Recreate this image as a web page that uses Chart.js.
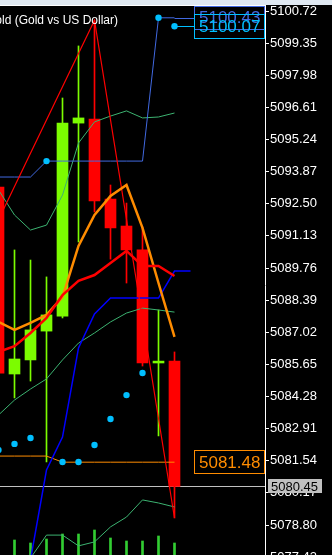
<!DOCTYPE html>
<html lang="en">
<head>
<meta charset="UTF-8">
<title>Gold (Gold vs US Dollar)</title>
<script src="https://cdn.jsdelivr.net/npm/chart.js"></script>
<style>
    html, body {
        margin: 0;
        padding: 0;
        background: #000;
        overflow: hidden;
    }
</style>
</head>
<body>
<canvas id="chart" width="332" height="565"></canvas>
<script>
// bars, oldest on the left
const candleIndex = [0, 1, 2, 3, 4, 5, 6, 7, 8, 9, 10, 11];
const openPrices  = [5093.21, 5085.24, 5085.84, 5087.07, 5087.71, 5095.94, 5096.11, 5092.70, 5091.55, 5090.53, 5085.71, 5085.79];
const highPrices  = [5093.94, 5090.53, 5090.10, 5089.38, 5097.01, 5099.23, 5100.33, 5093.30, 5092.53, 5091.51, 5087.97, 5086.18];
const lowPrices   = [5084.98, 5084.22, 5084.94, 5081.49, 5087.63, 5090.87, 5092.15, 5090.14, 5089.12, 5085.58, 5082.60, 5079.10];
const closePrices = [5085.28, 5085.88, 5087.12, 5087.76, 5095.94, 5096.16, 5092.62, 5091.47, 5090.53, 5085.71, 5085.79, 5080.45];
const tickVolumes = [140, 125, 110, 130, 155, 155, 175, 135, 120, 120, 145, 110];

// indicators
const maOrange  = [5087.46, 5087.12, 5087.42, 5087.76, 5088.52, 5090.70, 5092.02, 5092.83, 5093.30, 5091.47, 5089.12, 5086.82];
const maRed     = [5086.18, 5086.43, 5086.99, 5087.63, 5088.61, 5089.21, 5089.46, 5089.97, 5090.49, 5089.85, 5089.85, 5089.42];
const bandUpper = [5093.09, 5092.02, 5091.38, 5091.59, 5092.87, 5095.09, 5095.99, 5096.24, 5096.46, 5096.16, 5096.20, 5096.37];
const bandMid   = [5083.49, 5084.13, 5084.60, 5085.03, 5085.84, 5086.56, 5086.99, 5087.46, 5087.84, 5088.05, 5087.97, 5087.88];
const bandLower = [null, null, 5077.39, 5078.37, 5078.37, 5077.91, 5078.08, 5078.72, 5079.14, 5079.87, 5079.74, 5079.57];
const blueLine  = [null, null, 5077.31, 5081.15, 5082.55, 5086.35, 5087.80, 5088.48, 5088.48, 5088.48, 5088.48, 5089.63, 5089.63];
const stopLine  = [5093.64, 5093.64, 5093.64, 5094.32, 5094.32, 5094.32, 5094.32, 5094.32, 5094.32, 5094.32, 5100.43, 5100.43];
const sarDots   = [5082.00, 5082.26, 5082.51, 5094.32, 5081.49, 5081.49, 5082.21, 5083.32, 5084.34, 5085.28, 5100.43, 5100.07];
const levelLine = [5081.74, 5081.74, 5081.74, 5081.74, 5081.48, 5081.48, 5081.48, 5081.48, 5081.48, 5081.48, 5081.48, 5081.48];
const zigzagX   = [-2, 6, 11];
const zigzagY   = [5088.98, 5100.33, 5079.10];
const bidPrice  = 5080.45;

const priceTicks = [5100.72, 5099.35, 5097.98, 5096.61, 5095.24, 5093.87, 5092.50, 5091.13, 5089.76,
                    5088.39, 5087.02, 5085.65, 5084.28, 5082.91, 5081.54, 5080.17, 5078.80, 5077.43];

const bull = '#7cfc00';
const bear = '#ff0000';
const font = '"Liberation Sans", Arial, sans-serif';

const pts = arr => arr.map((v, i) => ({ x: i, y: v })).filter(p => p.y !== null);
const candleColors = candleIndex.map(i => closePrices[i] >= openPrices[i] ? bull : bear);

function line(data, color, width, order) {
    return {
        type: 'line', data: data, borderColor: color, borderWidth: width,
        pointRadius: 0, pointHoverRadius: 0, tension: 0, fill: false, order: order
    };
}

// price tags on the right edge of the plot
function tag(ctx, area, yScale, value, color, dy0, h, fromX) {
    const y = yScale.getPixelForValue(value);
    const left = area.right - 71;
    ctx.strokeStyle = color;
    ctx.lineWidth = 1;
    if (fromX !== null) {
        ctx.beginPath();
        ctx.moveTo(fromX, Math.round(y) + 0.5);
        ctx.lineTo(left, Math.round(y) + 0.5);
        ctx.stroke();
    }
    ctx.strokeRect(left + 0.5, Math.round(y - dy0) + 0.5, 70, h);
    ctx.fillStyle = color;
    ctx.font = '17px ' + font;
    ctx.textBaseline = 'middle';
    ctx.textAlign = 'left';
    ctx.fillText(value.toFixed(2), left + 5, y + 1);
}

const overlay = {
    id: 'overlay',
    beforeDraw(chart) {
        const ctx = chart.ctx;
        ctx.save();
        ctx.fillStyle = '#000';
        ctx.fillRect(0, 0, chart.width, chart.height);
        ctx.restore();
    },
    beforeDatasetsDraw(chart) {
        const ctx = chart.ctx, a = chart.chartArea, y = chart.scales.y.getPixelForValue(bidPrice);
        ctx.save();
        ctx.strokeStyle = '#c0c0c0';
        ctx.lineWidth = 1;
        ctx.beginPath();
        ctx.moveTo(a.left, Math.round(y) + 0.5);
        ctx.lineTo(a.right, Math.round(y) + 0.5);
        ctx.stroke();
        ctx.restore();
    },
    afterDraw(chart) {
        const ctx = chart.ctx, a = chart.chartArea, ys = chart.scales.y, xs = chart.scales.x;
        const last = candleIndex.length - 1;
        const lastX = xs.getPixelForValue(last);
        ctx.save();

        // window strip and top frame
        ctx.fillStyle = '#dfe8f1';
        ctx.fillRect(0, 0, chart.width, 5);
        ctx.strokeStyle = '#fff';
        ctx.lineWidth = 1;
        ctx.beginPath();
        ctx.moveTo(0, 5.5);
        ctx.lineTo(a.right + 1, 5.5);
        ctx.stroke();

        ctx.fillStyle = '#fff';
        ctx.font = '12px ' + font;
        ctx.textAlign = 'right';
        ctx.textBaseline = 'alphabetic';
        ctx.fillText('Gold (Gold vs US Dollar)', 118, 24);

        ctx.fillStyle = '#000';
        ctx.fillRect(a.right - 71, Math.round(ys.getPixelForValue(stopLine[last])) - 12, 71, 23);
        tag(ctx, a, ys, stopLine[last], '#4169e1', 12, 23, lastX);
        tag(ctx, a, ys, sarDots[last], '#00bfff', 12, 24, lastX);
        tag(ctx, a, ys, levelLine[last], '#ff8c00', 12, 23, null);

        // bid tag on the axis
        const by = ys.getPixelForValue(bidPrice);
        ctx.fillStyle = '#c0c0c0';
        ctx.fillRect(a.right + 3, Math.round(by) - 7, 54, 14);
        ctx.fillStyle = '#000';
        ctx.font = '13px ' + font;
        ctx.textAlign = 'left';
        ctx.textBaseline = 'middle';
        ctx.fillText(bidPrice.toFixed(2), a.right + 6, by + 1);
        ctx.restore();
    }
};

new Chart(document.getElementById('chart'), {
    type: 'line',
    data: {
        datasets: [
            line(pts(levelLine), '#ff8c00', 1, 4),
            line(zigzagX.map((x, i) => ({ x: x, y: zigzagY[i] })), '#ff0000', 1.2, 3),
            line(pts(bandUpper), '#3cb371', 1, 4),
            line(pts(bandMid), '#3cb371', 1, 4),
            line(pts(bandLower), '#3cb371', 1, 4),
            line(pts(stopLine), '#4169e1', 1, 3),
            line(pts(blueLine), '#0000ff', 1.5, 3),
            line(pts(maRed), '#ff0000', 2.5, 2),
            line(pts(maOrange), '#ff8c00', 2.5, 2),
            {
                type: 'line', data: pts(sarDots), showLine: false,
                pointRadius: 3.2, pointHoverRadius: 3.2, pointBorderWidth: 0,
                pointBackgroundColor: '#00bfff', order: 1
            },
            {
                type: 'bar', data: candleIndex.map(i => ({ x: i, y: [lowPrices[i], highPrices[i]] })),
                backgroundColor: candleColors, barThickness: 1, grouped: false, order: 6
            },
            {
                type: 'bar', data: candleIndex.map(i => ({ x: i, y: [openPrices[i], closePrices[i]] })),
                backgroundColor: candleColors, barThickness: 11, grouped: false, order: 5
            },
            {
                type: 'bar', yAxisID: 'yv', data: candleIndex.map(i => ({ x: i, y: tickVolumes[i] })),
                backgroundColor: '#32cd32', barThickness: 2, grouped: false, order: 7
            }
        ]
    },
    options: {
        responsive: false,
        animation: false,
        events: [],
        layout: { autoPadding: false, padding: { top: 5, left: 0, right: 0, bottom: 0 } },
        plugins: { legend: { display: false }, tooltip: { enabled: false } },
        scales: {
            x: { type: 'linear', display: false, offset: false, min: 0.09375, max: 16.65625 },
            y: {
                type: 'linear', position: 'right', bounds: 'data',
                min: 5077.095, max: 5100.976,
                afterBuildTicks: s => { s.ticks = priceTicks.map(v => ({ value: v })); },
                afterFit: s => { s.width = 67; s.paddingTop = 0; s.paddingBottom = 0; },
                ticks: {
                    color: '#fff', padding: 1, autoSkip: false,
                    font: { family: font, size: 13 },
                    callback: v => v.toFixed(2)
                },
                grid: { drawOnChartArea: false, drawTicks: true, tickLength: 4, tickColor: '#fff' },
                border: { display: true, color: '#fff', width: 1 }
            },
            yv: { display: false, min: 0, max: 2800 }
        }
    },
    plugins: [overlay]
});
</script>
</body>
</html>
